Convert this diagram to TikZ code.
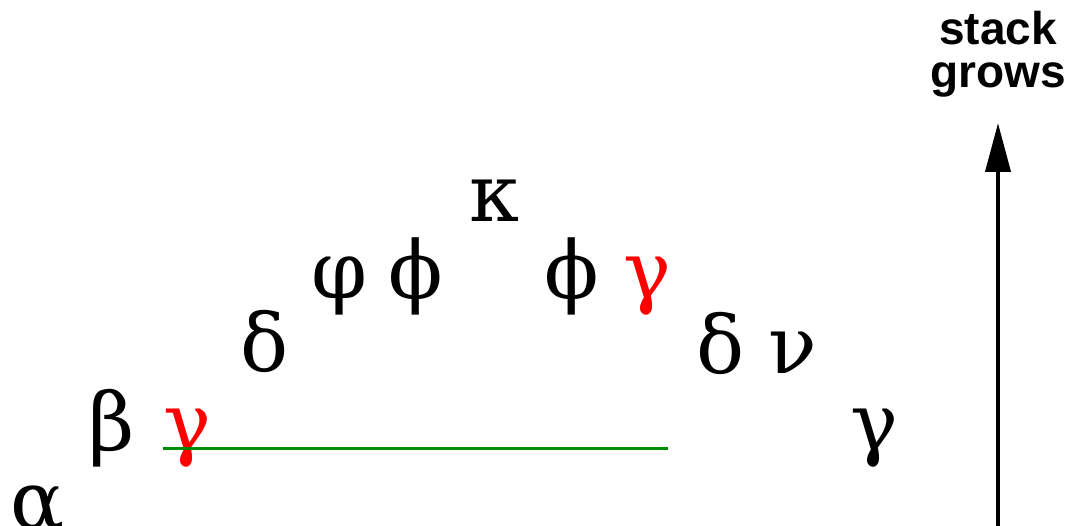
\documentclass[tikz,border=0pt]{standalone}
\usepackage{fontspec}
\newfontfamily\gk{DejaVu Serif}
\newfontfamily\lsans{Liberation Sans}
\usetikzlibrary{arrows.meta}
\definecolor{linegreen}{RGB}{0,140,0}
\definecolor{hlred}{RGB}{255,0,0}
\tikzset{
  glyph/.style={anchor=base, inner sep=0pt, font=\gk\fontsize{80}{80}\selectfont},
  redglyph/.style={glyph, text=hlred},
  label/.style={align=center, inner sep=0pt, font=\lsans\bfseries\fontsize{46}{43}\selectfont},
  stackarrow/.style={line width=4pt, -{Triangle[length=49pt,width=25pt]}},
  baseline/.style={line width=3pt, draw=linegreen}
}
\begin{document}
\begin{tikzpicture}[x=1pt,y=-1pt]
\useasboundingbox (0,0) rectangle (1078,526);
\fill[white] (0,0) rectangle (1078,526);
\node[glyph] (alpha) at (38,528) {α};
\node[glyph] (beta) at (112,450) {β};
\node[redglyph] (g1) at (187,450) {γ};
\node[glyph] (d1) at (265,371) {δ};
\node[glyph] (phi1) at (340,299) {φ};
\node[glyph] (phi2) at (416,299) {ϕ};
\node[glyph] (kappa) at (494,222) {κ};
\node[glyph] (phi3) at (572,299) {ϕ};
\node[redglyph] (g2) at (647,299) {γ};
\node[glyph] (d2) at (721,373) {δ};
\node[glyph] (nu) at (793,373) {ν};
\node[glyph] (g3) at (874,450) {γ};
\coordinate (lineL) at (163,448);
\coordinate (lineR) at (668,448);
\draw[baseline] (lineL) -- (lineR);
\coordinate (abot) at (998,526);
\coordinate (atop) at (998,123);
\draw[stackarrow] (abot) -- (atop);
\node[label, anchor=base] (lbl) at (998,88) {stack\\grows};
\end{tikzpicture}
\end{document}
